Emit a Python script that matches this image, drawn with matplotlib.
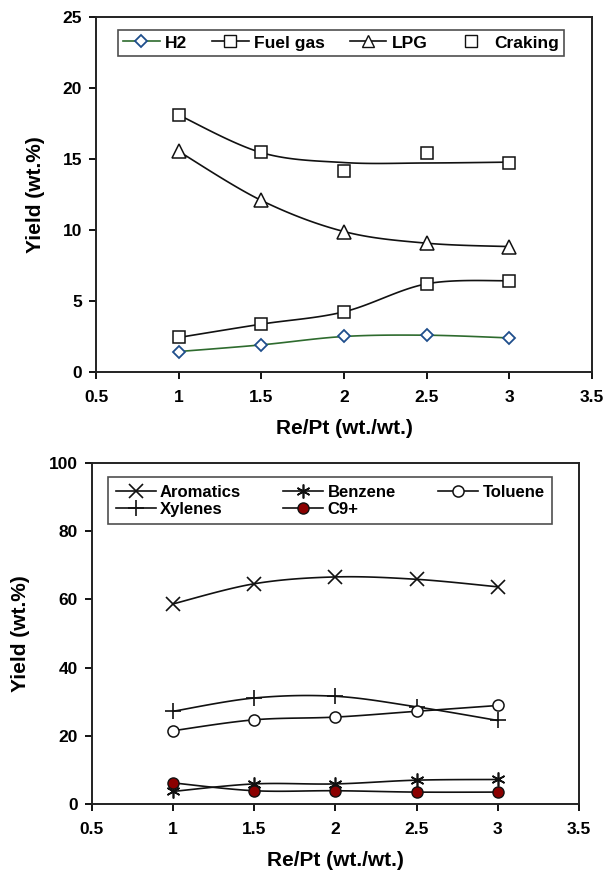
import numpy as np
import matplotlib
matplotlib.use('Agg')
import matplotlib.pyplot as plt

plt.rcParams['font.family'] = ['Liberation Sans', 'DejaVu Sans']
plt.rcParams['font.weight'] = 'bold'

# Re/Pt ratio (wt./wt.)
re_pt = [1.0, 1.5, 2.0, 2.5, 3.0]

# top chart - gas products (wt.%)
h2 = [1.44, 1.91, 2.50, 2.59, 2.40]
fuel_gas = [2.43, 3.37, 4.24, 6.21, 6.43]
lpg = [15.54, 12.08, 9.89, 9.07, 8.83]
craking = [18.08, 15.49, 14.17, 15.40, 14.74]
craking_trend = [18.1, 15.45, 14.75, 14.72, 14.78]

# bottom chart - liquid products (wt.%)
aromatics = [58.7, 64.6, 66.6, 65.9, 63.7]
benzene = [3.7, 5.9, 5.9, 7.0, 7.2]
toluene = [21.5, 24.7, 25.5, 27.2, 28.9]
xylenes = [27.2, 31.1, 31.6, 28.5, 24.5]
c9_plus = [6.2, 3.9, 3.9, 3.5, 3.5]


def smooth(x, y, n=30):
    # excel-like smoothed line (catmull-rom bezier)
    x = np.asarray(x, float)
    y = np.asarray(y, float)
    px = np.concatenate([[x[0]], x, [x[-1]]])
    py = np.concatenate([[y[0]], y, [y[-1]]])
    xs, ys = [], []
    t = np.linspace(0, 1, n)
    for i in range(1, len(px) - 2):
        p0 = np.array([px[i], py[i]])
        p3 = np.array([px[i + 1], py[i + 1]])
        p1 = p0 + (np.array([px[i + 1], py[i + 1]]) - np.array([px[i - 1], py[i - 1]])) / 6
        p2 = p3 - (np.array([px[i + 2], py[i + 2]]) - np.array([px[i], py[i]])) / 6
        b = ((1 - t) ** 3)[:, None] * p0 + (3 * (1 - t) ** 2 * t)[:, None] * p1 \
            + (3 * (1 - t) * t ** 2)[:, None] * p2 + (t ** 3)[:, None] * p3
        xs.extend(b[:, 0])
        ys.extend(b[:, 1])
    return xs, ys


def style_axes(ax, ylabelpad):
    for s in ax.spines.values():
        s.set_linewidth(1.4)
        s.set_color('#222222')
    ax.tick_params(direction='out', length=5, width=1.3, labelsize=12.5,
                   top=False, right=False)
    ax.tick_params(axis='x', pad=8)
    ax.tick_params(axis='y', pad=5)
    for lab in ax.get_xticklabels() + ax.get_yticklabels():
        lab.set_fontweight('bold')
    ax.set_xlabel('Re/Pt (wt./wt.)', fontsize=15, fontweight='bold', labelpad=10)
    ax.set_ylabel('Yield (wt.%)', fontsize=15, fontweight='bold', labelpad=ylabelpad)


fig = plt.figure(figsize=(6.05, 8.73), dpi=100)
lw = 1.2
xt = [0.5, 1, 1.5, 2, 2.5, 3, 3.5]
xtl = ['0.5', '1', '1.5', '2', '2.5', '3', '3.5']

# ---- top chart
ax1 = fig.add_axes([0.1587, 0.5739, 0.820, 0.4066])
ax1.plot(*smooth(re_pt, h2), color='#2e6b2e', lw=lw)
ax1.plot(re_pt, h2, ls='none', marker='D', ms=6.5, mfc='white', mec='#1f4e8c', mew=1.3)
ax1.plot(*smooth(re_pt, fuel_gas), color='#111111', lw=lw)
ax1.plot(re_pt, fuel_gas, ls='none', marker='s', ms=8.5, mfc='white', mec='#111111', mew=1.1)
ax1.plot(*smooth(re_pt, lpg), color='#111111', lw=lw)
ax1.plot(re_pt, lpg, ls='none', marker='^', ms=10, mfc='white', mec='#111111', mew=1.1)
ax1.plot(*smooth(re_pt, craking_trend), color='#111111', lw=lw)
ax1.plot(re_pt, craking, ls='none', marker='s', ms=8.5, mfc='white', mec='#111111', mew=1.1)

h_h2, = ax1.plot([], [], color='#2e6b2e', lw=lw, marker='D', ms=6, mfc='white', mec='#1f4e8c', mew=1.3)
h_fg, = ax1.plot([], [], color='#111111', lw=lw, marker='s', ms=8, mfc='white', mec='#111111')
h_lpg, = ax1.plot([], [], color='#111111', lw=lw, marker='^', ms=8.5, mfc='white', mec='#111111')
h_cr, = ax1.plot([], [], ls='none', marker='s', ms=8, mfc='white', mec='#111111')
leg1 = ax1.legend([h_h2, h_fg, h_lpg, h_cr], ['H2', 'Fuel gas', 'LPG', 'Craking'],
                  ncol=4, loc='upper left', bbox_to_anchor=(0.044, 0.963),
                  frameon=True, fancybox=False, edgecolor='#222222',
                  prop={'size': 12.5, 'weight': 'bold'}, handlelength=2.1,
                  columnspacing=1.45, handletextpad=0.3, borderpad=0.3,
                  borderaxespad=0)
leg1.get_frame().set_linewidth(1.2)

ax1.set_xlim(0.5, 3.5)
ax1.set_ylim(0, 25)
ax1.set_xticks(xt)
ax1.set_xticklabels(xtl)
ax1.set_yticks([0, 5, 10, 15, 20, 25])
style_axes(ax1, 13)

# ---- bottom chart
ax2 = fig.add_axes([0.152, 0.0790, 0.805, 0.3906])
series = [
    (aromatics, 'Aromatics', dict(marker='x', ms=10, mfc='none', mec='#111111', mew=1.2)),
    (xylenes, 'Xylenes', dict(marker='+', ms=11, mfc='none', mec='#111111', mew=1.2)),
    (benzene, 'Benzene', dict(marker=(6, 2, 0), ms=10, mfc='none', mec='#111111', mew=1.2)),
    (c9_plus, 'C9+', dict(marker='o', ms=8, mfc='#8b0000', mec='#111111', mew=1.0)),
    (toluene, 'Toluene', dict(marker='o', ms=8, mfc='white', mec='#111111', mew=1.1)),
]
handles = []
for vals, name, mk in series:
    ax2.plot(*smooth(re_pt, vals), color='#111111', lw=lw)
    ax2.plot(re_pt, vals, ls='none', **mk)
    h, = ax2.plot([], [], color='#111111', lw=lw, **mk)
    handles.append(h)
leg2 = ax2.legend(handles, [s[1] for s in series], ncol=3, loc='upper left',
                  bbox_to_anchor=(0.033, 0.959), frameon=True, fancybox=False,
                  edgecolor='#222222', prop={'size': 12, 'weight': 'bold'},
                  handlelength=2.4, columnspacing=2.55, handletextpad=0.25,
                  borderpad=0.45, labelspacing=0.12, borderaxespad=0)
leg2.get_frame().set_linewidth(1.2)

ax2.set_xlim(0.5, 3.5)
ax2.set_ylim(0, 100)
ax2.set_xticks(xt)
ax2.set_xticklabels(xtl)
ax2.set_yticks([0, 20, 40, 60, 80, 100])
style_axes(ax2, 14)

fig.savefig('out.png', dpi=100)
